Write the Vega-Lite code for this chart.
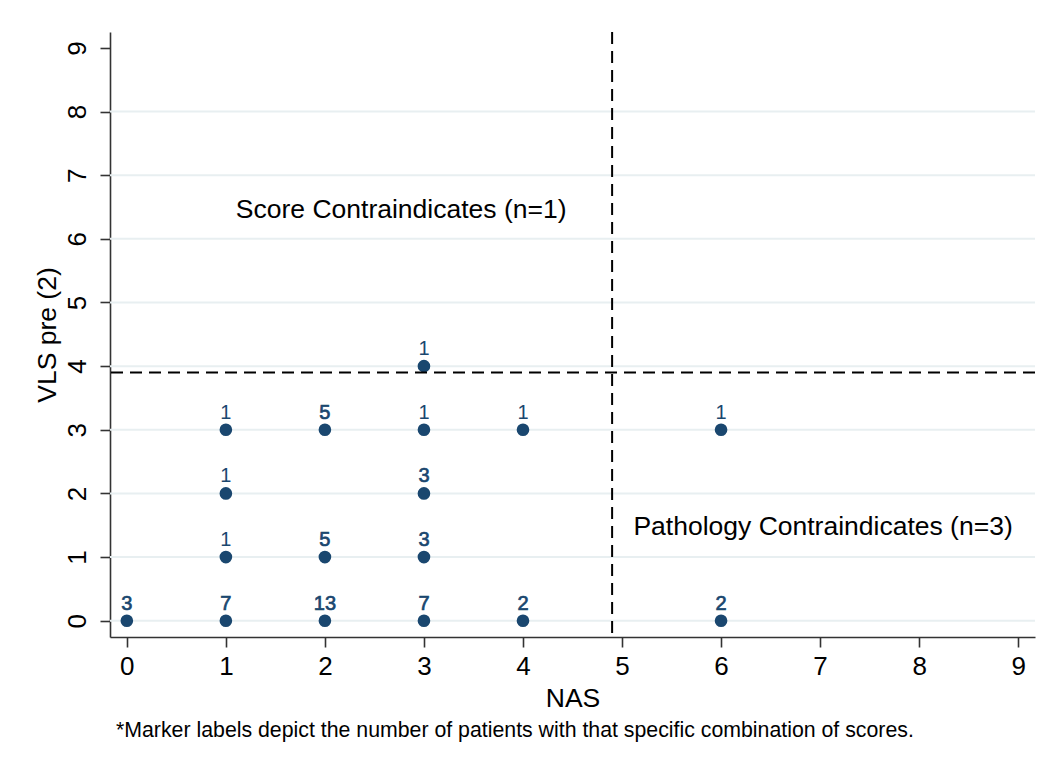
{
  "$schema": "https://vega.github.io/schema/vega-lite/v6.json",
  "width": 925,
  "height": 605,
  "autosize": {"type": "none"},
  "padding": {"left": 110, "top": 32, "right": 18, "bottom": 132},
  "background": "white",
  "config": {
    "view": {"stroke": null},
    "font": "Liberation Sans",
    "axis": {
      "grid": false,
      "domainColor": "#333333",
      "domainWidth": 1.6,
      "tickColor": "#333333",
      "tickWidth": 1.6,
      "tickSize": 10,
      "labelColor": "black",
      "labelFontSize": 26,
      "labelFont": "Liberation Sans",
      "titleColor": "black",
      "titleFontSize": 26.5,
      "titleFontWeight": "normal",
      "titleFont": "Liberation Sans",
      "format": "d"
    }
  },
  "title": {
    "text": "*Marker labels depict the number of patients with that specific combination of scores.",
    "orient": "bottom",
    "anchor": "start",
    "frame": "group",
    "dx": 6,
    "offset": 8,
    "fontSize": 21.3,
    "fontWeight": "normal",
    "font": "Liberation Sans",
    "color": "black"
  },
  "datasets": {
    "cells": [
      {"NAS": 0, "VLS": 0, "n": 3},
      {"NAS": 1, "VLS": 0, "n": 7},
      {"NAS": 2, "VLS": 0, "n": 13},
      {"NAS": 3, "VLS": 0, "n": 7},
      {"NAS": 4, "VLS": 0, "n": 2},
      {"NAS": 6, "VLS": 0, "n": 2},
      {"NAS": 1, "VLS": 1, "n": 1},
      {"NAS": 2, "VLS": 1, "n": 5},
      {"NAS": 3, "VLS": 1, "n": 3},
      {"NAS": 1, "VLS": 2, "n": 1},
      {"NAS": 3, "VLS": 2, "n": 3},
      {"NAS": 1, "VLS": 3, "n": 1},
      {"NAS": 2, "VLS": 3, "n": 5},
      {"NAS": 3, "VLS": 3, "n": 1},
      {"NAS": 4, "VLS": 3, "n": 1},
      {"NAS": 6, "VLS": 3, "n": 1},
      {"NAS": 3, "VLS": 4, "n": 1}
    ],
    "gridlines": [
      {"level": 0}, {"level": 1}, {"level": 2}, {"level": 3}, {"level": 4},
      {"level": 5}, {"level": 6}, {"level": 7}, {"level": 8}
    ],
    "cutoffs": [
      {"nas_cut": 4.9, "vls_cut": 3.9}
    ],
    "notes": [
      {"NAS": 2.77, "VLS": 6.32, "note": "Score Contraindicates (n=1)"},
      {"NAS": 7.03, "VLS": 1.346, "note": "Pathology Contraindicates (n=3)"}
    ]
  },
  "layer": [
    {
      "data": {"name": "gridlines"},
      "mark": {"type": "rule", "color": "#e8eff1", "strokeWidth": 2},
      "encoding": {
        "y": {
          "field": "level",
          "type": "quantitative",
          "scale": {"domain": [-0.256, 9.25], "nice": false, "zero": false},
          "axis": {
            "values": [0, 1, 2, 3, 4, 5, 6, 7, 8, 9],
            "labelAngle": 270,
            "labelFontSize": 26,
            "labelPadding": 10,
            "title": "VLS pre (2)",
            "titlePadding": 3
          }
        }
      }
    },
    {
      "data": {"name": "cells"},
      "mark": {"type": "circle", "color": "#1a476f", "opacity": 1, "size": 160},
      "encoding": {
        "x": {
          "field": "NAS",
          "type": "quantitative",
          "scale": {"domain": [-0.17, 9.17], "nice": false, "zero": false},
          "axis": {
            "values": [0, 1, 2, 3, 4, 5, 6, 7, 8, 9],
            "labelFontSize": 26,
            "labelPadding": 6,
            "title": "NAS",
            "titlePadding": 6
          }
        },
        "y": {"field": "VLS", "type": "quantitative"}
      }
    },
    {
      "data": {"name": "cells"},
      "mark": {"type": "text", "color": "#1a476f", "stroke": "#1a476f", "fontSize": 20, "baseline": "alphabetic", "align": "center", "dy": -11},
      "encoding": {
        "x": {"field": "NAS", "type": "quantitative"},
        "y": {"field": "VLS", "type": "quantitative"},
        "text": {"field": "n", "type": "quantitative"},
        "strokeWidth": {"condition": {"test": "datum.n > 1", "value": 0.7}, "value": 0}
      }
    },
    {
      "data": {"name": "cutoffs"},
      "mark": {"type": "rule", "color": "black", "strokeWidth": 2, "strokeDash": [12, 7]},
      "encoding": {"x": {"field": "nas_cut", "type": "quantitative"}}
    },
    {
      "data": {"name": "cutoffs"},
      "mark": {"type": "rule", "color": "black", "strokeWidth": 2, "strokeDash": [12, 7]},
      "encoding": {"y": {"field": "vls_cut", "type": "quantitative"}}
    },
    {
      "data": {"name": "notes"},
      "mark": {"type": "text", "color": "black", "fontSize": 26.5, "baseline": "alphabetic", "align": "center"},
      "encoding": {
        "x": {"field": "NAS", "type": "quantitative"},
        "y": {"field": "VLS", "type": "quantitative"},
        "text": {"field": "note"}
      }
    }
  ]
}
